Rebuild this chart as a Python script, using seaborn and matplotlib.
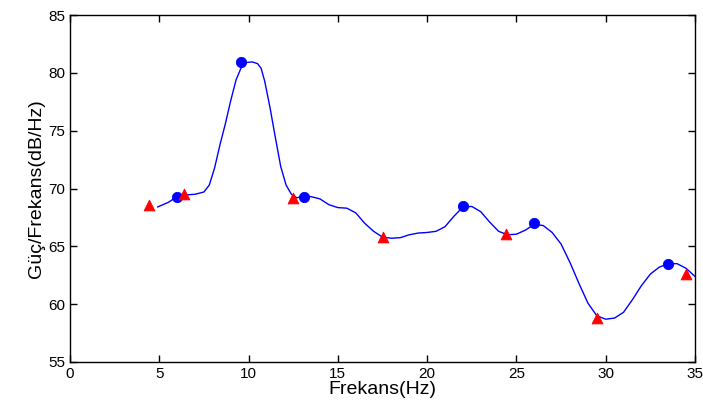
import numpy as np
import pandas as pd
import seaborn as sns
import matplotlib.pyplot as plt

# PSD curve
frekans = [4.9, 5.5, 6.0, 6.5, 7.0, 7.5, 7.8, 8.1, 8.4, 8.7, 9.0, 9.3, 9.6, 9.9, 10.2,
           10.5, 10.7, 10.9, 11.2, 11.5, 11.8, 12.1, 12.4, 12.7, 13.0, 13.5, 14.0, 14.5,
           15.0, 15.5, 16.0, 16.5, 17.0, 17.5, 18.0, 18.5, 19.0, 19.5, 20.0, 20.5, 21.0,
           21.5, 22.0, 22.5, 23.0, 23.5, 24.0, 24.5, 25.0, 25.5, 26.0, 26.5, 27.0, 27.5,
           28.0, 28.5, 29.0, 29.5, 30.0, 30.5, 31.0, 31.5, 32.0, 32.5, 33.0, 33.5,
           34.0, 34.5, 35.0]
guc = [68.4, 68.8, 69.3, 69.45, 69.5, 69.7, 70.3, 71.8, 73.8, 75.6, 77.6, 79.4, 80.5, 80.9, 80.95,
       80.8, 80.4, 79.3, 77.0, 74.4, 71.9, 70.3, 69.5, 69.2, 69.3, 69.3, 69.1, 68.6,
       68.35, 68.3, 67.9, 67.0, 66.3, 65.8, 65.7, 65.75, 66.0, 66.15, 66.2, 66.3, 66.7,
       67.6, 68.4, 68.45, 68.0, 67.1, 66.3, 66.0, 66.05, 66.4, 66.9, 66.8, 66.2, 65.2,
       63.6, 61.8, 60.1, 59.0, 58.7, 58.8, 59.3, 60.4, 61.6, 62.6, 63.2, 63.5,
       63.5, 63.1, 62.4]

# peaks (blue) and valleys (red)
tepe_x = [6.0, 9.6, 13.1, 22.0, 26.0, 33.5]
tepe_y = [69.3, 80.9, 69.3, 68.5, 67.0, 63.5]
cukur_x = [4.4, 6.4, 12.5, 17.5, 24.4, 29.5, 34.5]
cukur_y = [68.6, 69.5, 69.2, 65.8, 66.1, 58.8, 62.6]

sns.set_style("ticks", {"xtick.direction": "in", "ytick.direction": "in",
                        "axes.edgecolor": "black", "xtick.color": "black",
                        "ytick.color": "black", "text.color": "black",
                        "axes.labelcolor": "black"})
plt.rcParams['font.family'] = ['Liberation Sans', 'DejaVu Sans']

fig = plt.figure(figsize=(7.03, 4.18), dpi=100)
ax = fig.add_axes([0.0996, 0.134, 0.889, 0.830])

df = pd.DataFrame({"f": frekans, "p": guc})
sns.lineplot(data=df, x="f", y="p", ax=ax, color="blue", linewidth=1.0)
sns.scatterplot(x=tepe_x, y=tepe_y, ax=ax, color="blue", marker="o", s=55,
                edgecolor="blue", zorder=3)
sns.scatterplot(x=cukur_x, y=cukur_y, ax=ax, color="red", marker="^", s=60,
                edgecolor="red", zorder=3)

ax.set_xlim(0, 35)
ax.set_ylim(55, 85)
ax.set_xticks(np.arange(0, 36, 5))
ax.set_yticks(np.arange(55, 86, 5))
ax.tick_params(top=True, right=True, labelsize=11, length=5, width=1)
for s in ax.spines.values():
    s.set_linewidth(1.0)
ax.set_xlabel("Frekans(Hz)", fontsize=14, labelpad=0)
ax.set_ylabel("Güç/Frekans(dB/Hz)", fontsize=14, labelpad=2)

fig.savefig("out.png", dpi=100)
